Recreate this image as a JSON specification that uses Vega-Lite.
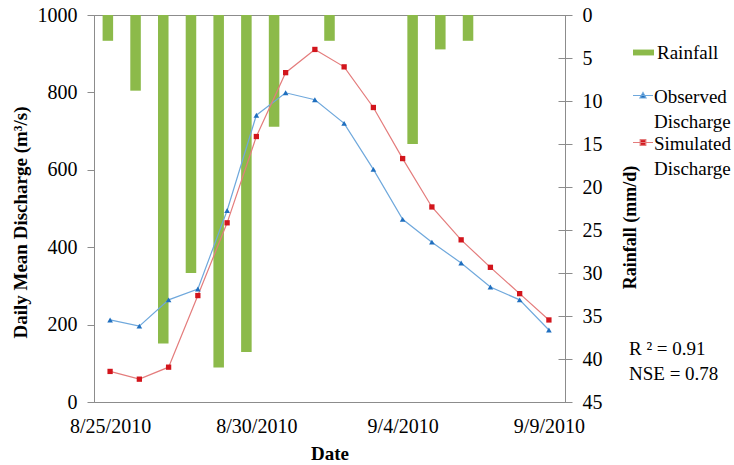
{
  "$schema": "https://vega.github.io/schema/vega-lite/v6.json",
  "width": 471,
  "height": 387,
  "autosize": "none",
  "padding": {"left": 94, "top": 15, "right": 169, "bottom": 63},
  "background": "white",
  "config": {
    "view": {"stroke": "#8c8c8c", "strokeWidth": 1},
    "font": "Liberation Serif",
    "axis": {
      "labelFont": "Liberation Serif", "labelFontSize": 20, "labelColor": "black",
      "titleFont": "Liberation Serif", "titleFontSize": 19, "titleFontWeight": "bold", "titleColor": "black",
      "domainColor": "#8c8c8c", "tickColor": "#8c8c8c", "grid": false
    },
    "legend": {"labelFont": "Liberation Serif", "labelFontSize": 19, "labelColor": "black", "padding": 0},
    "style": {"guide-label": {"lineHeight": 25}}
  },
  "title": {
    "text": ["R ² = 0.91", "NSE = 0.78"],
    "orient": "top", "anchor": "start", "frame": "group", "offset": 0,
    "dx": 535, "dy": 388, "baseline": "middle", "lineHeight": 25,
    "font": "Liberation Serif", "fontSize": 19, "fontWeight": "normal", "color": "black"
  },
  "layer": [
    {
      "data": {"values": [
        {"date": "8/25/2010", "rain": 3},
        {"date": "8/26/2010", "rain": 8.8},
        {"date": "8/27/2010", "rain": 38.2},
        {"date": "8/28/2010", "rain": 30},
        {"date": "8/29/2010", "rain": 41},
        {"date": "8/30/2010", "rain": 39.2},
        {"date": "8/31/2010", "rain": 13},
        {"date": "9/1/2010", "rain": 0},
        {"date": "9/2/2010", "rain": 3},
        {"date": "9/3/2010", "rain": 0},
        {"date": "9/4/2010", "rain": 0},
        {"date": "9/5/2010", "rain": 15},
        {"date": "9/6/2010", "rain": 4},
        {"date": "9/7/2010", "rain": 3},
        {"date": "9/8/2010", "rain": 0},
        {"date": "9/9/2010", "rain": 0},
        {"date": "9/10/2010", "rain": 0}
      ]},
      "mark": {"type": "bar"},
      "encoding": {
        "x": {"field": "date", "type": "ordinal", "sort": null,
          "scale": {"paddingInner": 0.62, "paddingOuter": 0.31},
          "axis": {"orient": "top", "labels": false, "ticks": false, "title": null}},
        "y": {"field": "rain", "type": "quantitative",
          "scale": {"domain": [0, 45], "reverse": true, "nice": false},
          "axis": {"orient": "right", "values": [0, 5, 10, 15, 20, 25, 30, 35, 40, 45],
            "domain": false, "offset": -7, "tickSize": 14, "labelPadding": 10,
            "title": "Rainfall (mm/d)", "titleAngle": 270,
            "titleX": 72, "titleY": 212, "titleBaseline": "middle", "titleFontSize": 18}},
        "color": {"datum": "Rainfall", "scale": {"range": ["#8cba4a"]},
          "legend": {"title": null, "orient": "none", "legendX": 538, "legendY": 26,
            "symbolType": "M-1,-0.28H1V0.28H-1Z", "symbolSize": 441, "labelOffset": 2}}
      }
    },
    {
      "data": {"values": [
        {"date": "8/25/2010", "Observed Discharge": 212, "Simulated Discharge": 79},
        {"date": "8/26/2010", "Observed Discharge": 196, "Simulated Discharge": 59},
        {"date": "8/27/2010", "Observed Discharge": 264, "Simulated Discharge": 90},
        {"date": "8/28/2010", "Observed Discharge": 292, "Simulated Discharge": 275},
        {"date": "8/29/2010", "Observed Discharge": 495, "Simulated Discharge": 463},
        {"date": "8/30/2010", "Observed Discharge": 741, "Simulated Discharge": 686},
        {"date": "8/31/2010", "Observed Discharge": 799, "Simulated Discharge": 851},
        {"date": "9/1/2010", "Observed Discharge": 781, "Simulated Discharge": 911},
        {"date": "9/2/2010", "Observed Discharge": 720, "Simulated Discharge": 866},
        {"date": "9/3/2010", "Observed Discharge": 601, "Simulated Discharge": 761},
        {"date": "9/4/2010", "Observed Discharge": 472, "Simulated Discharge": 629},
        {"date": "9/5/2010", "Observed Discharge": 413, "Simulated Discharge": 504},
        {"date": "9/6/2010", "Observed Discharge": 359, "Simulated Discharge": 419},
        {"date": "9/7/2010", "Observed Discharge": 297, "Simulated Discharge": 348},
        {"date": "9/8/2010", "Observed Discharge": 264, "Simulated Discharge": 280},
        {"date": "9/9/2010", "Observed Discharge": 186, "Simulated Discharge": 212}
      ]},
      "transform": [{"fold": ["Observed Discharge", "Simulated Discharge"], "as": ["series", "value"]}],
      "encoding": {
        "x": {"field": "date", "type": "ordinal", "sort": null,
          "scale": {"type": "point", "padding": 0.55},
          "axis": {"orient": "bottom", "values": ["8/25/2010", "8/30/2010", "9/4/2010", "9/9/2010"],
            "labelAngle": 0, "ticks": false, "tickSize": 0, "labelPadding": 24, "labelBaseline": "middle",
            "title": "Date", "titleY": 51, "titleBaseline": "middle"}},
        "y": {"field": "value", "type": "quantitative",
          "scale": {"domain": [0, 1000], "nice": false},
          "axis": {"values": [0, 200, 400, 600, 800, 1000], "format": "d", "tickSize": 7, "labelPadding": 10,
            "title": "Daily Mean Discharge (m³/s)", "titleX": -74, "titleY": 207, "titleBaseline": "middle"}}
      },
      "layer": [
        {
          "mark": {"type": "line", "strokeWidth": 1.2},
          "encoding": {
            "color": {"field": "series", "type": "nominal",
              "scale": {"domain": ["Observed Discharge", "Simulated Discharge"], "range": ["#6fa8dc", "#e47c7c"]},
              "legend": null}
          }
        },
        {
          "transform": [{"filter": "datum.series === 'Observed Discharge'"}],
          "mark": {"type": "point", "shape": "triangle-up", "filled": true, "color": "#1f6fbf", "size": 32, "opacity": 1}
        },
        {
          "transform": [{"filter": "datum.series === 'Simulated Discharge'"}],
          "mark": {"type": "point", "shape": "square", "filled": true, "color": "#d2151c", "size": 28, "opacity": 1}
        },
        {
          "transform": [{"filter": "datum.date === '8/25/2010'"}],
          "mark": {"type": "point", "opacity": 0, "strokeWidth": 1.2},
          "encoding": {
            "stroke": {"field": "series", "type": "nominal",
              "scale": {"domain": ["Observed Discharge", "Simulated Discharge"], "range": ["#6fa8dc", "#e47c7c"]},
              "legend": {"title": null, "orient": "none", "legendX": 538, "legendY": 71, "symbolSize": 400,
                "symbolStrokeWidth": 1.2, "symbolOpacity": 1, "labelOffset": 0, "rowPadding": 1,
                "labelExpr": "split(datum.label, ' ')"}},
            "fill": {"field": "series", "type": "nominal",
              "scale": {"domain": ["Observed Discharge", "Simulated Discharge"], "range": ["#1f6fbf", "#d2151c"]},
              "legend": {"title": null, "orient": "none", "legendX": 538, "legendY": 71, "symbolSize": 400,
                "symbolStrokeWidth": 1.2, "symbolOpacity": 1, "labelOffset": 0, "rowPadding": 1,
                "labelExpr": "split(datum.label, ' ')"}},
            "shape": {"field": "series", "type": "nominal",
              "scale": {"domain": ["Observed Discharge", "Simulated Discharge"],
                "range": ["M-1,-0.15H1M0,-0.45L0.3,0.1H-0.3Z", "M-1,-0.15H1M-0.28,-0.43H0.28V0.13H-0.28Z"]},
              "legend": {"title": null, "orient": "none", "legendX": 538, "legendY": 71, "symbolSize": 400,
                "symbolStrokeWidth": 1.2, "symbolOpacity": 1, "labelOffset": 0, "rowPadding": 1,
                "labelExpr": "split(datum.label, ' ')"}}
          }
        }
      ]
    }
  ],
  "resolve": {"scale": {"x": "independent", "y": "independent", "color": "independent"}}
}
